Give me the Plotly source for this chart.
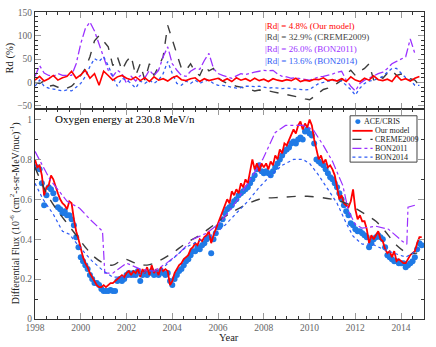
import numpy as np
import plotly.graph_objects as go
from plotly.subplots import make_subplots

# monthly-ish grid for the noisy series (0.1 yr)
year = np.round(np.arange(1998.0, 2014.95, 0.1), 1)

ace_flux = [
    0.76, 0.76, 0.75, 0.68, 0.57, 0.62, 0.66, 0.65, 0.63, 0.60,
    0.56, 0.55, 0.53, 0.54, 0.52, 0.52, 0.50, 0.47, 0.41, 0.36,
    0.31, 0.29, 0.27, 0.25, 0.22, 0.20, 0.18, 0.18, 0.17, 0.15,
    0.14, 0.14, 0.14, 0.145, 0.14, 0.14, 0.19, 0.20, 0.19, 0.20,
    0.22, 0.23, 0.22, 0.23, 0.22, 0.24, 0.19, 0.22, 0.23, 0.22,
    0.23, 0.24, 0.22, 0.23, 0.22, 0.24, 0.23, 0.22, 0.23, 0.19,
    0.17, 0.20, 0.22, 0.24, 0.25, 0.27, 0.29, 0.30, 0.32, 0.34,
    0.34, 0.36, 0.35, 0.37, 0.38, 0.40, 0.41, 0.33, 0.40, 0.43,
    0.46, 0.47, 0.50, 0.53, 0.55, 0.56, 0.57, 0.59, 0.60, 0.62,
    0.63, 0.64, 0.65, 0.66, 0.68, 0.70, 0.72, 0.75, 0.77, 0.74,
    0.73, 0.74, 0.73, 0.72, 0.74, 0.76, 0.78, 0.80, 0.82, 0.84,
    0.85, 0.86, 0.88, 0.89, 0.88, 0.90, 0.91, 0.90, 0.94, 0.95,
    0.93, 0.92, 0.88, 0.80, 0.79, 0.78, 0.77, 0.75, 0.73, 0.71,
    0.70, 0.68, 0.66, 0.63, 0.60, 0.57, 0.54, 0.52, 0.48, 0.47,
    0.45, 0.44, 0.44, 0.43, 0.42, 0.41, 0.36, 0.38, 0.40, 0.41,
    0.42, 0.41, 0.40, 0.36, 0.32, 0.31, 0.30, 0.29, 0.29, 0.28,
    0.28, 0.28, 0.26, 0.27, 0.28, 0.29, 0.31, 0.35, 0.38, 0.37,
]

our_flux = [
    0.80, 0.76, 0.77, 0.72, 0.62, 0.66, 0.67, 0.72, 0.70, 0.66,
    0.63, 0.60, 0.58, 0.57, 0.55, 0.59, 0.58, 0.50, 0.44, 0.40,
    0.35, 0.31, 0.28, 0.26, 0.23, 0.21, 0.19, 0.17, 0.16, 0.16,
    0.17, 0.16, 0.17, 0.18, 0.18, 0.19, 0.20, 0.21, 0.22, 0.21,
    0.23, 0.24, 0.22, 0.24, 0.23, 0.25, 0.21, 0.25, 0.23, 0.26,
    0.22, 0.27, 0.23, 0.25, 0.22, 0.26, 0.24, 0.25, 0.24, 0.17,
    0.19, 0.23, 0.25, 0.27, 0.28, 0.30, 0.31, 0.32, 0.35, 0.36,
    0.38, 0.37, 0.40, 0.39, 0.41, 0.42, 0.44, 0.38, 0.42, 0.45,
    0.48, 0.50, 0.53, 0.56, 0.60, 0.58, 0.64, 0.62, 0.65, 0.63,
    0.68, 0.66, 0.70, 0.68, 0.74, 0.80, 0.75, 0.78, 0.74, 0.78,
    0.76, 0.78, 0.75, 0.79, 0.77, 0.82, 0.80, 0.85, 0.83, 0.88,
    0.87, 0.90, 0.92, 0.95, 0.93, 0.97, 0.99, 0.95, 0.98, 0.96,
    1.00, 0.97, 0.90, 0.85, 0.80, 0.82, 0.78, 0.80, 0.76, 0.77,
    0.75, 0.72, 0.65, 0.60, 0.62, 0.58, 0.57, 0.56, 0.59, 0.65,
    0.55, 0.50, 0.52, 0.49, 0.49, 0.45, 0.38, 0.42, 0.40, 0.42,
    0.44, 0.40, 0.39, 0.35, 0.33, 0.34, 0.31, 0.34, 0.29, 0.30,
    0.29, 0.28, 0.28, 0.30, 0.32, 0.33, 0.34, 0.38, 0.41, 0.41,
]

creme_year = [1998.0, 1998.3, 1998.6, 1999.0, 1999.4, 1999.8, 2000.2, 2000.6, 2001.0, 2001.4,
              2001.9, 2002.4, 2002.9, 2003.4, 2004.0, 2004.6, 2005.2, 2005.8, 2006.4, 2007.0,
              2007.8, 2008.8, 2009.9, 2011.0, 2011.6, 2012.0, 2012.5, 2012.9, 2013.3, 2013.8,
              2014.3, 2014.7]
creme_flux = [0.76, 0.68, 0.61, 0.54, 0.48, 0.42, 0.36, 0.31, 0.28, 0.27,
              0.30, 0.28, 0.27, 0.29, 0.33, 0.38, 0.42, 0.47, 0.52, 0.56,
              0.60, 0.61, 0.615, 0.60, 0.58, 0.555, 0.52, 0.49, 0.44, 0.37,
              0.33, 0.33]

bon11_year = [1998.0, 1998.65, 1999.4, 1999.95, 2000.4, 2000.85, 2000.95, 2001.05, 2001.4, 2002.0,
              2002.6, 2003.2, 2003.75, 2004.3, 2004.9, 2005.5, 2006.0, 2006.35, 2006.8, 2007.35,
              2007.95, 2008.5, 2008.95, 2009.7, 2010.15, 2010.6, 2011.0, 2011.45, 2011.7, 2012.0,
              2012.3, 2012.9, 2013.45, 2014.05, 2014.25, 2014.3, 2014.6]
bon11_flux = [0.84, 0.70, 0.59, 0.555, 0.50, 0.45, 0.44, 0.23, 0.23, 0.28,
              0.25, 0.24, 0.28, 0.33, 0.40, 0.43, 0.475, 0.52, 0.59, 0.69,
              0.80, 0.935, 0.97, 0.97, 0.95, 0.87, 0.79, 0.67, 0.54, 0.475,
              0.455, 0.465, 0.45, 0.39, 0.375, 0.56, 0.57]

bon14_year = [1998.0, 1998.35, 1998.8, 1999.2, 1999.5, 1999.95, 2000.5, 2001.0, 2001.4, 2001.85,
              2002.3, 2002.9, 2003.45, 2003.9, 2004.6, 2005.5, 2005.9, 2006.3, 2006.8, 2007.3,
              2007.8, 2008.3, 2008.8, 2009.3, 2009.7, 2010.0, 2010.4, 2010.8, 2011.2, 2011.6,
              2011.9, 2012.3, 2012.75, 2013.2, 2013.75, 2014.2, 2014.5, 2014.8]
bon14_flux = [0.68, 0.60, 0.525, 0.44, 0.425, 0.36, 0.29, 0.24, 0.21, 0.21,
              0.21, 0.24, 0.24, 0.29, 0.36, 0.41, 0.43, 0.47, 0.53, 0.59,
              0.66, 0.72, 0.77, 0.80, 0.80, 0.78, 0.72, 0.65, 0.58, 0.48,
              0.415, 0.375, 0.375, 0.35, 0.33, 0.31, 0.33, 0.36]

# relative deviation Rd (%), 0.2 yr grid
rd_year = np.round(np.arange(1998.0, 2014.85, 0.2), 1)
rd_our = [5, 13, 3, 8, 15, 5, 10, 13, 24, 9,
          16, 26, 9, 19, -6, 24, 15, 5, 12, 15,
          9, 6, 12, 4, 10, 2, 12, 5, 8, 3,
          10, 14, 6, 4, 8, 10, 2, 8, 4, 6,
          9, 3, 8, 2, 10, 5, 8, 3, 9, 4,
          7, 2, 8, 5, 3, 6, 4, 9, 2, 5,
          3, 7, 6, 10, 4, 6, 3, 8, 2, 12,
          5, 2, 9, 5, 14, 6, 4, 7, 2, 15,
          5, 8, 3, 9, 13]
rd_creme = [0, -2, 3, -8, -6, -10, -8, -12, -8, 2,
            15, 30, 55, 89, 100, 89, 76, 36, 55, 26,
            45, 57, 15, 40, 5, 40, 15, 34, 55, 122,
            90, 60, 30, 26, 40, 22, 15, 36, 25, 30,
            10, 3, -2, -4, -8, -10, -12, -15, -18, -16,
            -18, -18, -20, -22, -23, -25, -28, -29, -32, -35,
            -37, -30, -23, -15, -12, -8, -2, 5, 18, 26,
            15, 24, 30, 40, 5, 15, 9, 20, 26, 15,
            18, 13, 8, 5, -6]
rd_bon11 = [13, 36, 20, 15, 13, 19, 15, 15, 15, 40,
            83, 115, 129, 110, 83, 55, 26, 13, 26, 19,
            -2, 13, 3, 15, 10, 26, 15, 26, 55, 76,
            40, 26, 15, 13, 24, 30, 28, 47, 62, 30,
            19, 15, 12, 9, 14, 19, 17, 20, 22, 24,
            26, 25, 26, 18, 13, 12, 9, 10, 8, 7,
            5, 8, 12, 13, 15, 18, 22, 24, 5, -8,
            -18, -2, 5, 9, 14, 19, 22, 30, 40, 45,
            50, 55, 93, 62]
rd_bon14 = [-8, 5, -8, -12, -14, -16, -18, -16, -18, -10,
            -2, 13, 34, 51, 45, 55, 36, 13, -8, 9,
            5, -2, -12, 3, -2, 5, -2, 5, 19, 45,
            19, -2, -6, 3, -2, 5, -2, 3, 5, -2,
            -6, -6, -8, -10, -12, -11, -8, -8, -9, -8,
            -10, -12, -11, -12, -13, -12, -13, -14, -15, -16,
            -15, -8, -2, 0, 3, 4, 5, 3, -6, -15,
            -27, -12, -2, 3, 5, 9, 13, 22, 30, 30,
            19, 10, 5, -6, -6]

labels = ["ACE/CRIS", "Our model", "CREME2009", "BON2011", "BON2014"]
rd_text = ["|Rd| = 4.8% (Our model)", "|Rd| = 32.9% (CREME2009)",
           "|Rd| = 26.0% (BON2011)", "|Rd| = 13.6% (BON2014)"]

RED = "#ff0000"
GRAY = "#3c3c3c"
PURPLE = "#9b30ff"
BLUE = "#2f5cf5"
DOT = "#1f7ae6"
FONT = "Liberation Serif"

fig = make_subplots(rows=2, cols=1, shared_xaxes=True, vertical_spacing=0,
                    row_heights=[0.315, 0.685])

# top: Rd
fig.add_trace(go.Scatter(x=rd_year, y=rd_creme, mode="lines",
                         line=dict(color=GRAY, width=1.4, dash="dash")), row=1, col=1)
fig.add_trace(go.Scatter(x=rd_year[:len(rd_bon11)], y=rd_bon11, mode="lines",
                         line=dict(color=PURPLE, width=1.3, dash="dashdot")), row=1, col=1)
fig.add_trace(go.Scatter(x=rd_year, y=rd_bon14, mode="lines",
                         line=dict(color=BLUE, width=1.3, dash="dot")), row=1, col=1)
fig.add_trace(go.Scatter(x=rd_year, y=rd_our, mode="lines",
                         line=dict(color=RED, width=1.6)), row=1, col=1)

# bottom: flux
fig.add_trace(go.Scatter(x=year, y=ace_flux, mode="markers",
                         marker=dict(color=DOT, size=6)), row=2, col=1)
fig.add_trace(go.Scatter(x=year, y=our_flux, mode="lines",
                         line=dict(color=RED, width=1.8)), row=2, col=1)
fig.add_trace(go.Scatter(x=creme_year, y=creme_flux, mode="lines",
                         line=dict(color=GRAY, width=1.4, dash="dash", shape="spline")), row=2, col=1)
fig.add_trace(go.Scatter(x=bon11_year, y=bon11_flux, mode="lines",
                         line=dict(color=PURPLE, width=1.2, dash="dashdot")), row=2, col=1)
fig.add_trace(go.Scatter(x=bon14_year, y=bon14_flux, mode="lines",
                         line=dict(color=BLUE, width=1.2, dash="dot")), row=2, col=1)

axis_common = dict(showline=True, linecolor="#333", linewidth=1, mirror="allticks",
                   ticks="inside", ticklen=6, tickcolor="#999", showgrid=False, zeroline=False,
                   tickfont=dict(family=FONT, size=9.5, color="#666"))
fig.update_xaxes(range=[1998, 2015], dtick=2, tick0=1998,
                 minor=dict(dtick=0.5, ticks="inside", ticklen=3, tickcolor="#333"),
                 **axis_common)
fig.update_xaxes(showticklabels=False, row=1, col=1)
fig.update_yaxes(range=[-56, 150.5], dtick=50, minor=dict(dtick=10, ticks="inside", ticklen=3, tickcolor="#333"),
                 row=1, col=1, **axis_common)
fig.update_yaxes(range=[0, 1.054], tickvals=[0, 0.2, 0.4, 0.6, 0.8, 1],
                 ticktext=["0", "0.2", "0.4", "0.6", "0.8", "1"],
                 minor=dict(dtick=0.1, ticks="inside", ticklen=3, tickcolor="#333"),
                 row=2, col=1, **axis_common)

for i, (txt, col) in enumerate(zip(rd_text, [RED, "#444", PURPLE, BLUE])):
    fig.add_annotation(text=txt, xref="paper", yref="paper", x=0.587, y=0.955 - i * 0.038,
                       xanchor="left", yanchor="middle", showarrow=False,
                       font=dict(family=FONT, size=9, color=col))

# legend box drawn by hand (compact, like the original)
leg_x0, leg_x1, leg_y0, leg_y1 = 0.810, 0.982, 0.511, 0.662
leg_rows = [0.643, 0.613, 0.585, 0.556, 0.527]
fig.add_shape(type="rect", xref="paper", yref="paper", x0=leg_x0, x1=leg_x1, y0=leg_y0, y1=leg_y1,
              line=dict(color="#444", width=1), fillcolor="white", layer="above")
fig.add_shape(type="circle", xref="paper", yref="paper", x0=0.8235, x1=0.8365,
              y0=leg_rows[0] - 0.008, y1=leg_rows[0] + 0.008,
              line=dict(width=0), fillcolor=DOT, layer="above")
fig.add_annotation(text=labels[0], xref="paper", yref="paper", x=0.844, y=leg_rows[0],
                   xanchor="left", yanchor="middle", showarrow=False, borderpad=0,
                   font=dict(family=FONT, size=8, color="#222"))
styles = [(RED, 1.8, "solid"), (GRAY, 1.4, "dash"), (PURPLE, 1.2, "dashdot"), (BLUE, 1.2, "dot")]
for lab, yy, (col, w, d) in zip(labels[1:], leg_rows[1:], styles):
    fig.add_shape(type="line", xref="paper", yref="paper", x0=0.816, x1=0.868, y0=yy, y1=yy,
                  line=dict(color=col, width=w, dash=d), layer="above")
    fig.add_annotation(text=lab, xref="paper", yref="paper", x=0.871, y=yy,
                       xanchor="left", yanchor="middle", showarrow=False, borderpad=0,
                       font=dict(family=FONT, size=8, color="#222"))

fig.add_annotation(text="Oxygen energy at 230.8 MeV/n", xref="paper", yref="paper",
                   x=0.231, y=0.650, xanchor="center", yanchor="middle", showarrow=False,
                   font=dict(family=FONT, size=11, color="black"))
fig.add_annotation(text="Rd (%)", xref="paper", yref="paper", x=-0.064, y=0.849,
                   textangle=-90, showarrow=False, xanchor="center", yanchor="middle",
                   font=dict(family=FONT, size=10.5, color="#222"))
fig.add_annotation(text="Differential Flux (10<sup>-6</sup> (cm<sup>2</sup>-s-sr-MeV/nuc)<sup>-1</sup>)",
                   xref="paper", yref="paper", x=-0.052, y=0.344,
                   textangle=-90, showarrow=False, xanchor="center", yanchor="middle",
                   font=dict(family=FONT, size=10, color="#222"))
fig.add_annotation(text="Year", xref="paper", yref="paper", x=0.499, y=-0.06,
                   showarrow=False, xanchor="center", yanchor="middle",
                   font=dict(family=FONT, size=10.5, color="#222"))

fig.update_layout(
    width=436, height=347,
    margin=dict(l=35, r=12, t=8, b=28),
    paper_bgcolor="white", plot_bgcolor="white",
    font=dict(family=FONT),
    showlegend=False,
)

# drop the default 8 px page margin so the figure sits at the window corner
fig.write_html("out.html", config={"displayModeBar": False},
               post_script="document.body.style.margin='0';")
